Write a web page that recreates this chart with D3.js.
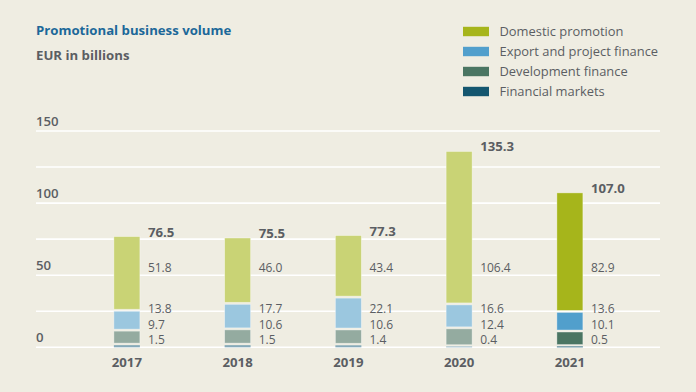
<!DOCTYPE html>
<html><head><meta charset="utf-8">
<script src="https://cdn.jsdelivr.net/npm/d3@7"></script>
<style>
html,body{margin:0;padding:0;background:#efede2;}
svg{display:block;}
text{font-family:"Open Sans","Noto Sans",sans-serif;}
</style></head><body>
<script>
const years = ["2017","2018","2019","2020","2021"];
const domestic = [51.8, 46.0, 43.4, 106.4, 82.9];
const exportFinance = [13.8, 17.7, 22.1, 16.6, 13.6];
const development = [9.7, 10.6, 10.6, 12.4, 10.1];
const financialMarkets = [1.5, 1.5, 1.4, 0.4, 0.5];
const totals = [76.5, 75.5, 77.3, 135.3, 107.0];
const seriesNames = ["Domestic promotion","Export and project finance","Development finance","Financial markets"];
const gridTicks = [0,25,50,75,100,125,150];
const labelTicks = [0,50,100,150];

const W=696,H=392;
const bg="#efede2", grey="#5b5e63";
const strong=["#a6b51b","#519fcc","#4a7562","#14566f"];
const light=["#c9d375","#9bc7df","#94aba0","#86aab9"];

const svg=d3.select("body").append("svg").attr("width",W).attr("height",H);
svg.append("rect").attr("width",W).attr("height",H).attr("fill",bg);

const y=d3.scaleLinear().domain([0,150]).range([347.3,131]);
const x=d3.scaleBand().domain(years).range([71.5,625.25]);
const barW=26;

// title
svg.append("text").attr("x",36).attr("y",35).attr("fill","#1c6899").attr("font-weight",700).attr("font-size",13.2).text("Promotional business volume");
svg.append("text").attr("x",36).attr("y",59.5).attr("fill",grey).attr("font-weight",700).attr("font-size",13.2).text("EUR in billions");

// legend
const lg=svg.append("g");
seriesNames.forEach((n,i)=>{
  const cy=31.5+i*20;
  lg.append("rect").attr("x",463).attr("y",cy-4.7).attr("width",26).attr("height",9.4).attr("fill",strong[i]);
  lg.append("text").attr("x",499.5).attr("y",cy+4.6).attr("fill",grey).attr("font-size",12.9).text(n);
});

// grid
svg.append("g").selectAll("line").data(gridTicks).join("line")
  .attr("x1",36).attr("x2",660).attr("y1",d=>y(d)).attr("y2",d=>y(d))
  .attr("stroke","#ffffff").attr("stroke-width",1.6);
svg.append("g").selectAll("text").data(labelTicks).join("text")
  .attr("x",36).attr("y",d=>y(d)-5).attr("fill",grey).attr("font-weight",600).attr("font-size",13.2).text(d=>d);

// bars
const stackOrder=[financialMarkets,development,exportFinance,domestic]; // bottom to top
const colorIdx=[3,2,1,0];
years.forEach((yr,i)=>{
  const cx=x(yr)+x.bandwidth()/2;
  const pal = i===years.length-1?strong:light;
  let base=0;
  stackOrder.forEach((arr,k)=>{
    const v=arr[i];
    const top=base+v;
    const y0=y(base)-(k===0?0:2), y1=y(top);
    const h=Math.max(y0-y1,0.8);
    svg.append("rect").attr("x",cx-barW/2).attr("y",y0-h).attr("width",barW).attr("height",h)
      .attr("fill",pal[colorIdx[k]]).attr("stroke","rgba(255,255,255,0.45)").attr("stroke-width",k===0?0:0.8);
    base=top;
  });
  const lx=cx+barW/2+8;
  // total
  svg.append("text").attr("x",lx).attr("y",y(base)).attr("fill",grey).attr("font-weight",700).attr("font-size",13.2).text(totals[i].toFixed(1));
  // segment labels at fixed offsets
  const offs=[y(0)-3.3, y(0)-18.6, y(0)-34, y(0)-75.8];
  const vals=[financialMarkets[i],development[i],exportFinance[i],domestic[i]];
  vals.forEach((v,k)=>{
    svg.append("text").attr("x",lx).attr("y",offs[k]).attr("fill",grey).attr("font-size",12).text(v.toFixed(1));
  });
  svg.append("text").attr("x",cx).attr("y",366.5).attr("text-anchor","middle").attr("fill",grey).attr("font-weight",700).attr("font-size",13.2).text(yr);
});
</script>
</body></html>
